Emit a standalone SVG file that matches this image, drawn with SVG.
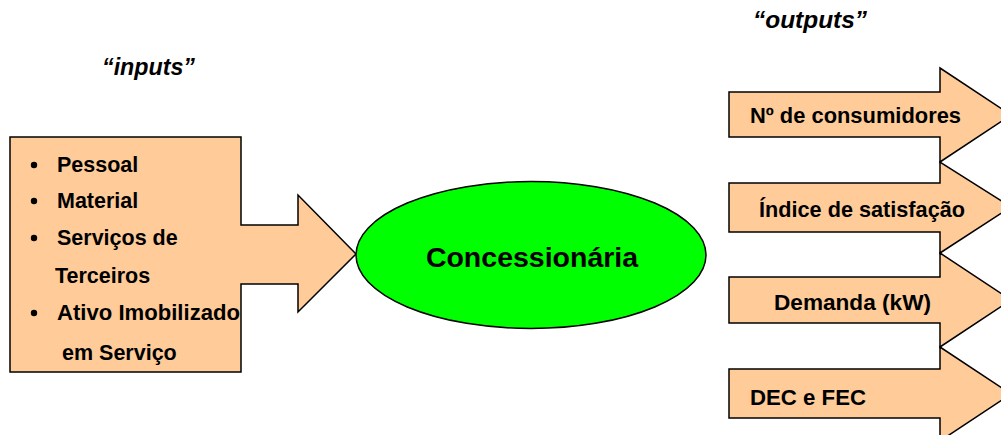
<svg xmlns="http://www.w3.org/2000/svg" width="1001" height="435" viewBox="0 0 1001 435">
  <style>
    .shape { fill: #FFCC99; stroke: #000; stroke-width: 1.5; stroke-linejoin: miter; }
    .core { fill: #00FF00; stroke: #000; stroke-width: 1.5; }
    .lbl { font-family: "Liberation Sans", Arial, sans-serif; font-weight: bold; font-size: 21.5px; fill: #000; }
    .cap { font-family: "Liberation Sans", Arial, sans-serif; font-weight: bold; font-style: italic; font-size: 23px; fill: #000; }
    .big { font-family: "Liberation Sans", Arial, sans-serif; font-weight: bold; font-size: 28.5px; fill: #000; }
  </style>

  <rect width="1001" height="435" fill="#fff"/>

  <!-- section captions -->
  <g id="caption-inputs">
    <text class="cap" x="102" y="75" textLength="93" lengthAdjust="spacingAndGlyphs">“inputs”</text>
  </g>
  <g id="caption-outputs">
    <text class="cap" x="753" y="28" textLength="114" lengthAdjust="spacingAndGlyphs">“outputs”</text>
  </g>

  <!-- inputs box with arrow pointing at the company -->
  <g id="inputs">
    <polygon class="shape" points="10,137 241,137 241,225 298,225 298,195 356,254 298,312 298,284 241,284 241,372 10,372"/>
    <g class="lbl">
      <circle cx="34" cy="165" r="3.2"/>
      <circle cx="34" cy="201" r="3.2"/>
      <circle cx="34" cy="238" r="3.2"/>
      <circle cx="34" cy="313" r="3.2"/>
      <text x="57" y="172">Pessoal</text>
      <text x="57" y="208">Material</text>
      <text x="57" y="245">Serviços de</text>
      <text x="55" y="283">Terceiros</text>
      <text x="57" y="320" textLength="183" lengthAdjust="spacingAndGlyphs">Ativo Imobilizado</text>
      <text x="62" y="360">em Serviço</text>
    </g>
  </g>

  <!-- the company -->
  <g id="concessionaria">
    <ellipse class="core" cx="531" cy="255" rx="175" ry="73.5"/>
    <text class="big" x="532" y="267" text-anchor="middle">Concessionária</text>
  </g>

  <!-- output arrows -->
  <g id="output-consumidores">
    <polygon class="shape" points="729,92 940,92 940,68 1011,115 940,162 940,137 729,137"/>
    <text class="lbl" x="750" y="123" textLength="211" lengthAdjust="spacingAndGlyphs">Nº de consumidores</text>
  </g>
  <g id="output-satisfacao">
    <polygon class="shape" points="729,183 940,183 940,162 1011,207 940,253 940,232 729,232"/>
    <text class="lbl" x="759" y="217" textLength="206" lengthAdjust="spacingAndGlyphs">Índice de satisfação</text>
  </g>
  <g id="output-demanda">
    <polygon class="shape" points="729,277 940,277 940,253 1011,300 940,347 940,323 729,323"/>
    <text class="lbl" x="774" y="310" textLength="157" lengthAdjust="spacingAndGlyphs">Demanda (kW)</text>
  </g>
  <g id="output-dec-fec">
    <polygon class="shape" points="729,369 940,369 940,347 1011,394 940,441 940,418 729,418"/>
    <text class="lbl" x="750" y="405" textLength="116" lengthAdjust="spacingAndGlyphs">DEC e FEC</text>
  </g>

  <g id="connectors"></g>
</svg>
